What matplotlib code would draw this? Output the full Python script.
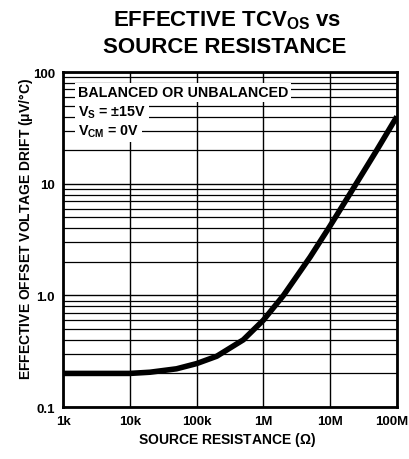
import numpy as np
import matplotlib.transforms as mtransforms
from matplotlib import pyplot as plt
from matplotlib.ticker import FixedLocator, NullFormatter, LogLocator

plt.rcParams['font.family'] = ['Liberation Sans', 'DejaVu Sans']
plt.rcParams['mathtext.fontset'] = 'custom'
plt.rcParams['mathtext.rm'] = 'Liberation Sans:bold'
plt.rcParams['mathtext.bf'] = 'Liberation Sans:bold'
plt.rcParams['mathtext.it'] = 'Liberation Sans:bold'
plt.rcParams['mathtext.default'] = 'bf'

# source resistance (ohm) and effective TCVos (uV/C)
resistance = [1e3, 5e3, 1e4, 2e4, 5e4, 1e5, 2e5, 5e5, 1e6, 2e6, 5e6, 1e7, 2e7, 5e7, 1e8]
drift = [0.2, 0.2, 0.2, 0.205, 0.22, 0.245, 0.285, 0.40, 0.60, 1.0, 2.2, 4.2, 8.2, 20.0, 40.0]

x_ticks = [1e3, 1e4, 1e5, 1e6, 1e7, 1e8]
x_labels = ['1k', '10k', '100k', '1M', '10M', '100M']
y_ticks = [0.1, 1.0, 10, 100]
y_labels = ['0.1', '1.0', '10', '100']

fig = plt.figure(figsize=(4.1, 4.6), dpi=100)
ax = fig.add_axes([0.154, 0.113, 0.814, 0.728])

ax.set_xscale('log')
ax.set_yscale('log')
ax.set_xlim(1e3, 1e8)
ax.set_ylim(0.1, 100)

ax.plot(resistance, drift, color='black', lw=4, solid_capstyle='butt', zorder=3)

ax.xaxis.set_major_locator(FixedLocator(x_ticks))
ax.set_xticklabels(x_labels)
ax.xaxis.set_minor_locator(FixedLocator([]))
ax.yaxis.set_major_locator(FixedLocator(y_ticks))
ax.set_yticklabels(y_labels)
ax.yaxis.set_minor_locator(LogLocator(base=10, subs=np.arange(2, 10)))
ax.yaxis.set_minor_formatter(NullFormatter())

ax.grid(True, which='major', axis='both', color='black', lw=1.0)
ax.grid(True, which='minor', axis='y', color='black', lw=0.9)
ax.tick_params(which='both', length=0, pad=6)
for lbl in ax.get_xticklabels() + ax.get_yticklabels():
    lbl.set_fontweight('bold')
    lbl.set_fontsize(9.5)
for s in ax.spines.values():
    s.set_linewidth(2)

# last x label sits on the right edge; nudge it so it stays inside the figure
last = ax.get_xticklabels()[-1]
last.set_transform(last.get_transform() + mtransforms.ScaledTranslation(-5 / 100, 0, fig.dpi_scale_trans))

legend_lines = ['BALANCED OR UNBALANCED', '$V_S$ = $\\pm$15V', '$V_{CM}$ = 0V']
for i, line in enumerate(legend_lines):
    ax.text(0.045, 0.94 - i * 0.058, line, transform=ax.transAxes, ha='left', va='center',
            fontsize=10.3, fontweight='bold', zorder=4,
            bbox=dict(facecolor='white', edgecolor='none', pad=2.0))

ax.set_xlabel('SOURCE RESISTANCE ($\\Omega$)', fontsize=10, fontweight='bold')
ax.xaxis.set_label_coords(0.491, -0.068)
ax.set_ylabel('EFFECTIVE OFFSET VOLTAGE DRIFT ($\\mu$V/°C)', fontsize=10, fontweight='bold')
ax.yaxis.set_label_coords(-0.083, 0.535)

fig.text(0.555, 0.955, 'EFFECTIVE TCV$_{OS}$ vs', ha='center', va='center',
         fontsize=16, fontweight='bold')
fig.text(0.548, 0.897, 'SOURCE RESISTANCE', ha='center', va='center',
         fontsize=16, fontweight='bold')

fig.savefig('out.png', dpi=100)
